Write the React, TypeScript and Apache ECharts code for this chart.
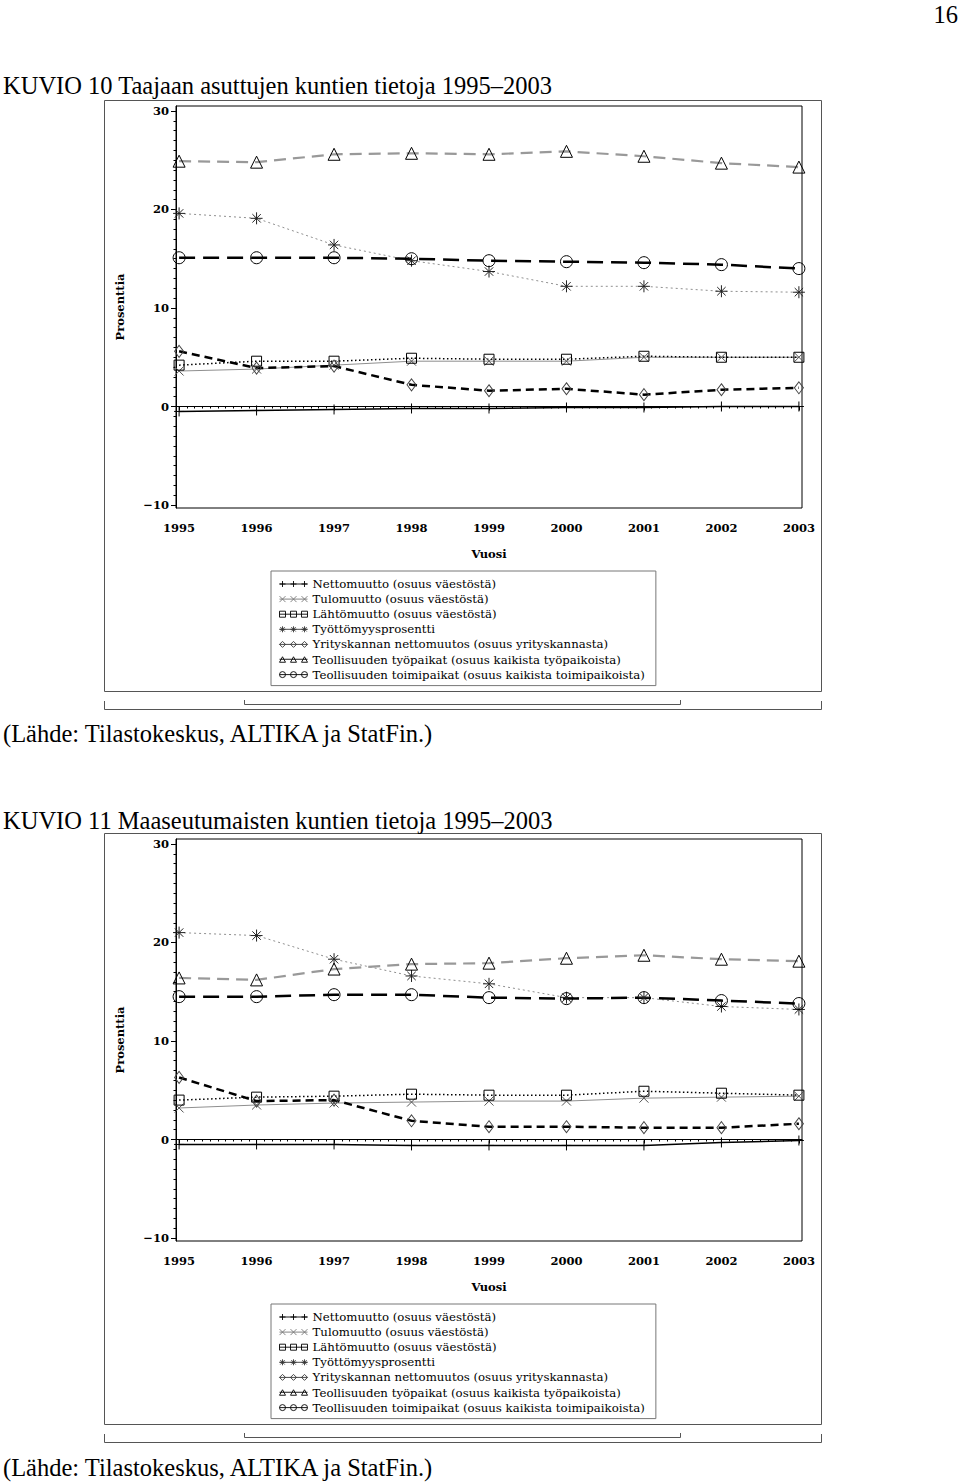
import React, { useEffect, useRef } from "react";
import * as echarts from "echarts";

// ---------- data ----------
const years = [1995, 1996, 1997, 1998, 1999, 2000, 2001, 2002, 2003];
const yTickLabels = [-10, 0, 10, 20, 30];

const seriesNames = [
  "Nettomuutto (osuus väestöstä)",
  "Tulomuutto (osuus väestöstä)",
  "Lähtömuutto (osuus väestöstä)",
  "Työttömyysprosentti",
  "Yrityskannan nettomuutos (osuus yrityskannasta)",
  "Teollisuuden työpaikat (osuus kaikista työpaikoista)",
  "Teollisuuden toimipaikat (osuus kaikista toimipaikoista)",
];

// KUVIO 10 – Taajaan asuttujen kuntien tietoja
const netto1 = [-0.5, -0.4, -0.3, -0.2, -0.2, -0.1, -0.1, 0.0, 0.0];
const tulo1 = [3.6, 3.8, 4.2, 4.6, 4.6, 4.6, 5.0, 5.0, 5.0];
const lahto1 = [4.2, 4.6, 4.6, 4.9, 4.8, 4.8, 5.1, 5.0, 5.0];
const tyott1 = [19.6, 19.1, 16.4, 14.8, 13.7, 12.2, 12.2, 11.7, 11.6];
const yritys1 = [5.6, 3.9, 4.1, 2.2, 1.6, 1.8, 1.2, 1.7, 1.9];
const tyopaikat1 = [24.9, 24.8, 25.6, 25.7, 25.6, 25.9, 25.4, 24.7, 24.3];
const toimipaikat1 = [15.1, 15.1, 15.1, 15.0, 14.8, 14.7, 14.6, 14.4, 14.0];

// KUVIO 11 – Maaseutumaisten kuntien tietoja
const netto2 = [-0.5, -0.5, -0.5, -0.6, -0.6, -0.6, -0.6, -0.3, -0.1];
const tulo2 = [3.2, 3.5, 3.7, 3.8, 3.9, 3.9, 4.2, 4.3, 4.4];
const lahto2 = [4.0, 4.3, 4.4, 4.6, 4.5, 4.5, 4.9, 4.7, 4.5];
const tyott2 = [21.0, 20.7, 18.3, 16.6, 15.8, 14.4, 14.4, 13.5, 13.2];
const yritys2 = [6.3, 3.9, 4.0, 1.9, 1.3, 1.3, 1.2, 1.2, 1.6];
const tyopaikat2 = [16.4, 16.2, 17.3, 17.8, 17.9, 18.4, 18.7, 18.3, 18.1];
const toimipaikat2 = [14.5, 14.5, 14.7, 14.7, 14.4, 14.3, 14.4, 14.1, 13.8];

const chart1 = [netto1, tulo1, lahto1, tyott1, yritys1, tyopaikat1, toimipaikat1];
const chart2 = [netto2, tulo2, lahto2, tyott2, yritys2, tyopaikat2, toimipaikat2];

// ---------- styles ----------
const BLACK = "#000000";
const GRAY = "#8f8f8f";
const AXIS_FONT = "'DejaVu Serif', serif";
const PAGE_FONT = "'Liberation Serif', 'Times New Roman', serif";

const PLUS = "path://M5 0 L5 10 M0 5 L10 5";
const CROSS = "path://M0 0 L10 10 M10 0 L0 10";
const STAR = "path://M5 0 L5 10 M0 5 L10 5 M1.5 1.5 L8.5 8.5 M8.5 1.5 L1.5 8.5";

const styles = [
  { line: { color: BLACK, width: 1.5, type: "solid" }, symbol: PLUS, size: 10, border: BLACK },
  { line: { color: GRAY, width: 1, type: "solid" }, symbol: CROSS, size: 9, border: "#555" },
  { line: { color: BLACK, width: 1.5, type: [1.5, 2.5] }, symbol: "rect", size: 10, border: BLACK },
  { line: { color: GRAY, width: 1, type: [2, 3] }, symbol: STAR, size: 12, border: "#222" },
  { line: { color: BLACK, width: 2.5, type: [8, 5] }, symbol: "diamond", size: [9, 12], border: "#444" },
  { line: { color: "#999999", width: 2.2, type: [12, 7] }, symbol: "triangle", size: 12, border: BLACK },
  { line: { color: BLACK, width: 2.5, type: [16, 8] }, symbol: "circle", size: 12, border: BLACK },
];

// legend icons: short line with three small symbols (28 x 6 box)
function tri(cx: number, d: string) {
  return d.replace(/X(-?\d+(\.\d+)?)/g, (_m, v) => String(cx + parseFloat(v)));
}
const iconShapes = [
  "MX0 0 LX0 6 MX-3 3 LX3 3",
  "MX-3 0 LX3 6 MX3 0 LX-3 6",
  "MX-3 0 LX3 0 LX3 6 LX-3 6 Z",
  "MX0 0 LX0 6 MX-3 3 LX3 3 MX-2.2 0.8 LX2.2 5.2 MX2.2 0.8 LX-2.2 5.2",
  "MX0 0 LX3 3 LX0 6 LX-3 3 Z",
  "MX-3 6 LX0 0.5 LX3 6 Z",
  "",
];
function legendIcon(i: number) {
  let sym = "";
  for (const cx of [3, 14, 25]) {
    let d = iconShapes[i];
    if (i === 6) {
      d = `M${cx - 3} 3 A3 3 0 1 0 ${cx + 3} 3 A3 3 0 1 0 ${cx - 3} 3 Z`;
    } else {
      d = tri(cx, d);
    }
    sym += " " + d;
  }
  return "path://M0 3 L28 3" + sym;
}
const legendStroke = [BLACK, "#777", BLACK, "#333", "#333", BLACK, BLACK];

const OFFSET = 733;
const GRID_TOP = 106;
const GRID_H = 402;
const GRID_LEFT = 176;
const GRID_W = 626;

const fmtY = (v: number) => (v < 0 ? "\u2212" + Math.abs(v) : String(v));

function range(a: number, b: number, step: number) {
  const out: number[] = [];
  for (let i = 0; a + i * step <= b + 1e-9; i++) out.push(Math.round((a + i * step) * 100) / 100);
  return out;
}

function makeAxes(gi: number) {
  const minorY = range(-10, 30, 1).filter((v) => v % 10 !== 0);
  const minorX = range(1995, 2003, 0.1).filter((v) => Math.abs(v - Math.round(v)) > 1e-6);
  const xAxes = [
    {
      type: "value",
      gridIndex: gi,
      position: "bottom",
      min: 1994.96,
      max: 2003.04,
      name: "Vuosi",
      nameLocation: "middle",
      nameGap: 40,
      nameTextStyle: { fontFamily: AXIS_FONT, fontWeight: "bold", fontSize: 11.5, color: BLACK },
      axisLine: { show: true, lineStyle: { color: BLACK, width: 1 } },
      axisTick: { show: true, length: 4, customValues: years, lineStyle: { color: BLACK } },
      axisLabel: {
        customValues: years,
        formatter: (v: number) => String(v),
        margin: 14,
        fontFamily: AXIS_FONT,
        fontWeight: "bold",
        fontSize: 11.5,
        color: BLACK,
      },
      splitLine: { show: false },
    },
    {
      type: "value",
      gridIndex: gi,
      position: "bottom",
      min: 1994.96,
      max: 2003.04,
      axisLine: { show: false },
      axisTick: { show: true, length: 2, customValues: minorX, lineStyle: { color: BLACK } },
      axisLabel: { show: false },
      splitLine: { show: false },
    },
  ];
  const yAxes = [
    {
      type: "value",
      gridIndex: gi,
      position: "left",
      min: -10.3,
      max: 30.5,
      name: "Prosenttia",
      nameLocation: "middle",
      nameGap: 50,
      nameRotate: 90,
      nameTextStyle: { fontFamily: AXIS_FONT, fontWeight: "bold", fontSize: 11.5, color: BLACK },
      axisLine: { show: true, lineStyle: { color: BLACK, width: 1 } },
      axisTick: { show: true, length: 5, customValues: yTickLabels, lineStyle: { color: BLACK } },
      axisLabel: {
        customValues: yTickLabels,
        formatter: fmtY,
        margin: 7,
        fontFamily: AXIS_FONT,
        fontWeight: "bold",
        fontSize: 11.5,
        color: BLACK,
      },
      splitLine: { show: false },
    },
    {
      type: "value",
      gridIndex: gi,
      position: "left",
      min: -10.3,
      max: 30.5,
      axisLine: { show: false },
      axisTick: { show: true, length: 2.5, customValues: minorY, lineStyle: { color: BLACK } },
      axisLabel: { show: false },
      splitLine: { show: false },
    },
  ];
  return { xAxes, yAxes };
}

function makeSeries(gi: number, values: number[][]) {
  return values.map((vals, i) => {
    const st = styles[i];
    const s: any = {
      type: "line",
      name: seriesNames[i],
      xAxisIndex: gi * 2,
      yAxisIndex: gi * 2,
      data: years.map((y, k) => [y, vals[k]]),
      symbol: st.symbol,
      symbolSize: st.size,
      showSymbol: true,
      lineStyle: { color: st.line.color, width: st.line.width, type: st.line.type },
      itemStyle: { color: "transparent", borderColor: st.border, borderWidth: 1 },
      emphasis: { disabled: true },
      z: 3,
    };
    if (i === 0) {
      s.markLine = {
        silent: true,
        symbol: "none",
        label: { show: false },
        lineStyle: { color: BLACK, width: 1, type: "solid" },
        data: [{ yAxis: 0 }],
      };
    }
    return s;
  });
}

function makeLegend(top: number) {
  return {
    orient: "vertical",
    left: 271,
    top,
    padding: [7, 11, 5, 6],
    itemWidth: 28,
    itemHeight: 6,
    itemGap: 3.1,
    itemTextGap: 5,
    borderColor: "#777",
    borderWidth: 1,
    backgroundColor: "#fff",
    selectedMode: false,
    symbolKeepAspect: true,
    textStyle: { fontFamily: AXIS_FONT, fontSize: 11.75, lineHeight: 11, color: BLACK },
    data: seriesNames.map((name, i) => ({
      name,
      icon: legendIcon(i),
      itemStyle: { color: "none", borderColor: legendStroke[i], borderWidth: 0.9, borderType: "solid" },
    })),
  };
}

function pageText(x: number, y: number, text: string, align = "left") {
  return {
    type: "text",
    x,
    y,
    style: {
      text,
      fill: BLACK,
      font: `24.5px ${PAGE_FONT}`,
      textAlign: align,
      textVerticalAlign: "middle",
    },
    silent: true,
  };
}

function frame(dy: number) {
  return [
    {
      type: "rect",
      shape: { x: 104.5, y: 100.5 + dy, width: 717, height: 591 },
      style: { fill: "none", stroke: "#555", lineWidth: 1 },
      silent: true,
    },
    {
      type: "polyline",
      shape: { points: [[104.5, 701 + dy], [104.5, 709.5 + dy], [821.5, 709.5 + dy], [821.5, 701 + dy]] },
      style: { fill: "none", stroke: "#555", lineWidth: 1 },
      silent: true,
    },
    {
      type: "polyline",
      shape: { points: [[244.5, 700 + dy], [244.5, 704.5 + dy], [680.5, 704.5 + dy], [680.5, 700 + dy]] },
      style: { fill: "none", stroke: "#555", lineWidth: 1 },
      silent: true,
    },
  ];
}

export default function App() {
  const ref = useRef<HTMLDivElement>(null);
  useEffect(() => {
    if (!ref.current) return;
    const chart = echarts.init(ref.current, undefined, { renderer: "svg" });
    const a1 = makeAxes(0);
    const a2 = makeAxes(1);
    const option: any = {
      animation: false,
      backgroundColor: "#fff",
      grid: [
        { left: GRID_LEFT, top: GRID_TOP, width: GRID_W, height: GRID_H, show: true, borderColor: BLACK, borderWidth: 1, backgroundColor: "transparent" },
        { left: GRID_LEFT, top: GRID_TOP + OFFSET, width: GRID_W, height: GRID_H, show: true, borderColor: BLACK, borderWidth: 1, backgroundColor: "transparent" },
      ],
      xAxis: [...a1.xAxes, ...a2.xAxes],
      yAxis: [...a1.yAxes, ...a2.yAxes],
      legend: [makeLegend(571), makeLegend(571 + OFFSET)],
      series: [...makeSeries(0, chart1), ...makeSeries(1, chart2)],
      graphic: [
        ...frame(0),
        ...frame(OFFSET),
        pageText(958, 14, "16", "right"),
        pageText(3, 85, "KUVIO 10 Taajaan asuttujen kuntien tietoja 1995\u20132003"),
        pageText(3, 733, "(Lähde: Tilastokeskus, ALTIKA ja StatFin.)"),
        pageText(3, 820, "KUVIO 11 Maaseutumaisten kuntien tietoja 1995\u20132003"),
        pageText(3, 1467, "(Lähde: Tilastokeskus, ALTIKA ja StatFin.)"),
      ],
    };
    chart.setOption(option);
    return () => chart.dispose();
  }, []);
  return (
    <div
      ref={ref}
      style={{ position: "absolute", left: 0, top: 0, width: 960, height: 1483, background: "#fff" }}
    />
  );
}
